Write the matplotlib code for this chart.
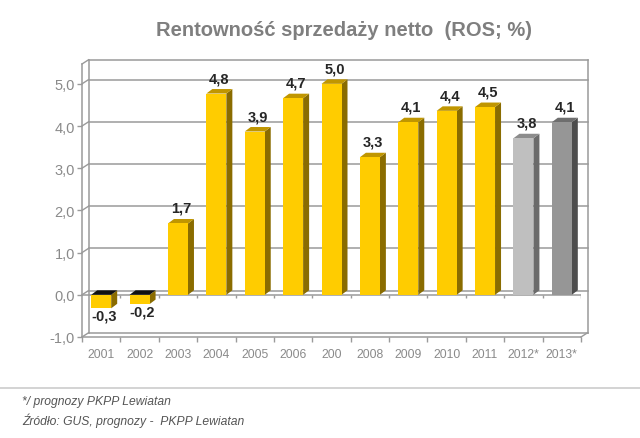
import matplotlib
matplotlib.use("Agg")
import matplotlib.pyplot as plt

plt.rcParams["font.family"] = ["Liberation Sans", "DejaVu Sans"]

years = ["2001", "2002", "2003", "2004", "2005", "2006", "200", "2008", "2009",
         "2010", "2011", "2012*", "2013*"]
# heights as drawn in the picture, the printed labels are rounded a bit differently
heights = [-0.32, -0.22, 1.69, 4.77, 3.87, 4.66, 5.0, 3.26, 4.09, 4.36, 4.45, 3.71, 4.09]
value_labels = ["-0,3", "-0,2", "1,7", "4,8", "3,9", "4,7", "5,0", "3,3", "4,1",
                "4,4", "4,5", "3,8", "4,1"]
y_ticks = [-1, 0, 1, 2, 3, 4, 5]
y_tick_labels = ["-1,0", "0,0", "1,0", "2,0", "3,0", "4,0", "5,0"]

YELLOW = ("#ffcc00", "#8a6c00", "#c09600")
LIGHT = ("#bfbfbf", "#6b6b6b", "#8c8c8c")
DARK = ("#969696", "#4d4d4d", "#6e6e6e")
bar_colors = [YELLOW] * 11 + [LIGHT, DARK]

AXIS = "#9a9a9a"
TEXT = "#8a8a8a"

W, H = 640, 439
fig = plt.figure(figsize=(W / 100, H / 100), dpi=100, facecolor="white")
ax = fig.add_axes([82 / W, 1 - 338 / H, (581 - 82) / W, (338 - 65) / H])
ax.set_xlim(0, len(years))
ax.set_ylim(-1, 5.47)
ax.patch.set_visible(False)

# depth of the fake 3d, converted from pixels to data units
px_x = len(years) / (581 - 82)
px_y = 6.47 / (338 - 65)
wall_dx = 6.5 * px_x
wall_dy = 4.2 * px_y
bar_dx = 6.0 * px_x
bar_dy = 4.5 * px_y
bar_w = 20.0 * px_x

top = 5.47
right = len(years)

# back wall
for v in y_ticks:
    ax.plot([wall_dx, right + wall_dx], [v + wall_dy] * 2, color=AXIS, lw=1.1, zorder=1, clip_on=False)
    ax.plot([0, wall_dx], [v, v + wall_dy], color=AXIS, lw=1, zorder=1, clip_on=False)
ax.plot([wall_dx, right + wall_dx], [top + wall_dy] * 2, color=AXIS, lw=1.1, zorder=1, clip_on=False)
ax.plot([wall_dx, wall_dx], [-1 + wall_dy, top + wall_dy], color=AXIS, lw=1.1, zorder=1, clip_on=False)
ax.plot([right + wall_dx, right + wall_dx], [-1 + wall_dy, top + wall_dy], color=AXIS, lw=1.1, zorder=1, clip_on=False)
ax.plot([0, wall_dx], [top, top + wall_dy], color=AXIS, lw=1, zorder=1, clip_on=False)
ax.plot([right, right + wall_dx], [-1, -1 + wall_dy], color=AXIS, lw=1, zorder=1, clip_on=False)

# zero line in front of the floor
ax.axhline(0, color=AXIS, lw=1.1, zorder=2)
ax.vlines(range(1, len(years) + 1), -3.5 * px_y, 0, color=AXIS, lw=1, zorder=2)

for i, (h, lab, cols) in enumerate(zip(heights, value_labels, bar_colors)):
    front, side, cap = cols
    x0 = i + 0.5 - bar_w / 2
    x1 = x0 + bar_w
    ax.bar(i + 0.5, h, width=bar_w, color=front, zorder=4, linewidth=0)
    ax.fill([x1, x1 + bar_dx, x1 + bar_dx, x1],
            [0, bar_dy, h + bar_dy, h] if h > 0 else [h, h + bar_dy, bar_dy, 0],
            color=side, lw=0, zorder=3)
    if h > 0:
        ax.fill([x0, x1, x1 + bar_dx, x0 + bar_dx], [h, h, h + bar_dy, h + bar_dy],
                color=cap, lw=0, zorder=3)
        ax.text(i + 0.5 + 3 * px_x, h + 11.5 * px_y, lab, ha="center", va="baseline",
                fontsize=10.5, fontweight="bold", color="#262626", zorder=6)
    else:
        # the negative bars show a dark lid at the zero level
        ax.fill([x0, x1, x1 + bar_dx, x0 + bar_dx], [0, 0, bar_dy, bar_dy],
                color="#111111", lw=0, zorder=3)
        ax.text(i + 0.5 + 2.5 * px_x, h - 11 * px_y, lab, ha="center", va="baseline",
                fontsize=10.5, fontweight="bold", color="#262626", zorder=6)

for s in ["top", "right"]:
    ax.spines[s].set_visible(False)
for s in ["left", "bottom"]:
    ax.spines[s].set_color(AXIS)
    ax.spines[s].set_linewidth(1.1)

ax.set_yticks(y_ticks)
ax.set_yticklabels(y_tick_labels)
ax.tick_params(axis="y", length=3.5, width=1, color=AXIS, labelcolor=TEXT, labelsize=10.5, pad=1.5)

ax.set_xticks([i + 0.5 for i in range(len(years))])
ax.set_xticklabels(years)
ax.set_xticks(range(len(years) + 1), minor=True)
ax.tick_params(axis="x", which="major", length=0, labelcolor=TEXT, labelsize=8.7, pad=8)
ax.tick_params(axis="x", which="minor", length=3.5, width=1, color=AXIS)

fig.text(344 / W, 1 - 30 / H, "Rentowność sprzedaży netto  (ROS; %)", ha="center", va="center",
         fontsize=14.5, fontweight="bold", color="#7f7f7f")

fig.add_artist(plt.Line2D([0, 1], [1 - 389 / H] * 2, color="#cccccc", lw=1.2))
fig.text(22 / W, 1 - 402 / H, "*/ prognozy PKPP Lewiatan", ha="left", va="center",
         fontsize=8.75, style="italic", color="#555555")
fig.text(22 / W, 1 - 421 / H, "Źródło: GUS, prognozy -  PKPP Lewiatan", ha="left", va="center",
         fontsize=8.75, style="italic", color="#555555")

fig.savefig("out.png", dpi=100)
